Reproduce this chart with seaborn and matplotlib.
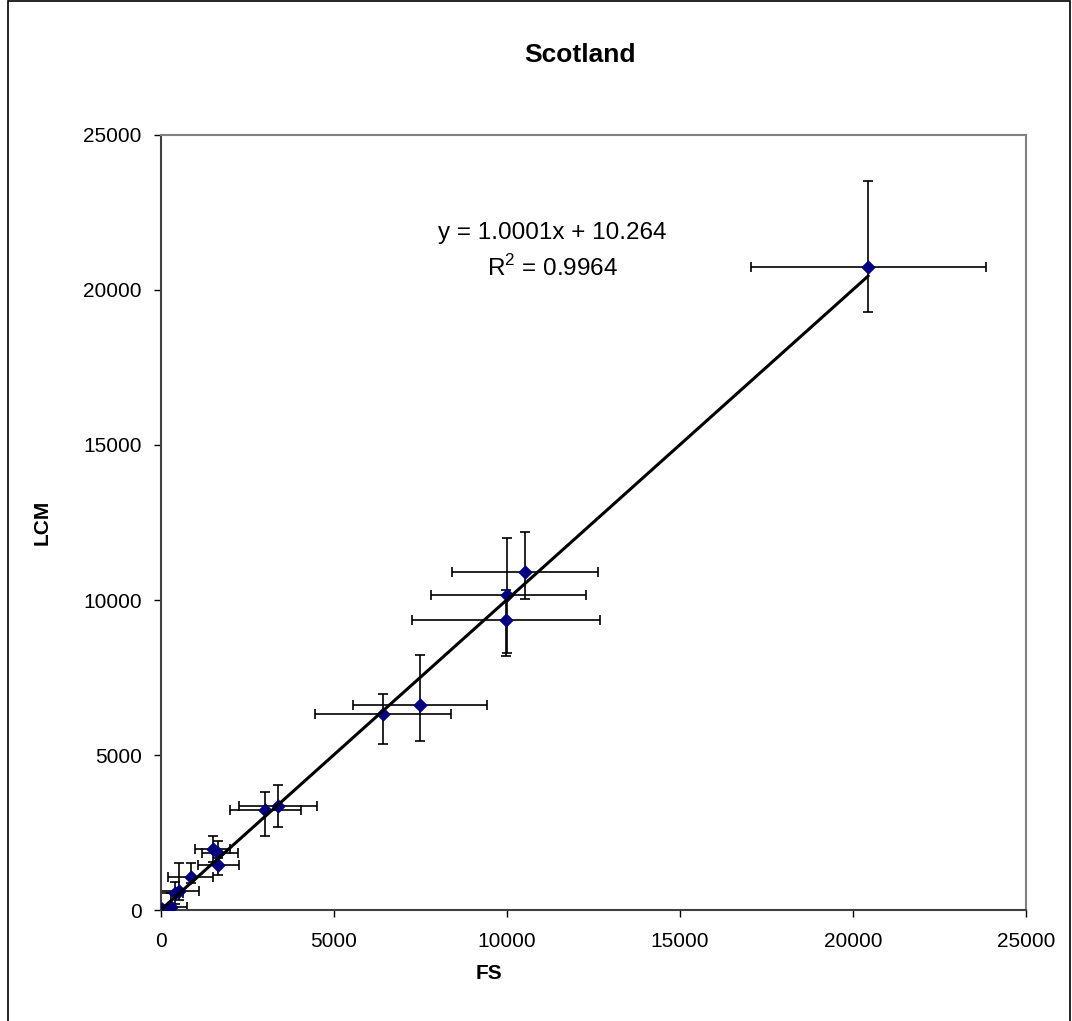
import numpy as np
import pandas as pd
import matplotlib
matplotlib.use('Agg')
import matplotlib.pyplot as plt
import seaborn as sns
from matplotlib.patches import Rectangle

# FS vs LCM areas, with asymmetric error bars
fs = [20442, 10529, 10009, 9962, 7486, 6426, 3372, 3006,
      1638, 1494, 1656, 858, 529, 405, 280, 20]
lcm = [20753, 10909, 10175, 9357, 6598, 6313, 3341, 3212,
       1834, 1963, 1455, 1054, 624, 560, 107, 40]
fs_err_lo = [3390, 2109, 2197, 2717, 1928, 1975, 1109, 1012,
             462, 511, 578, 647, 600, 483, 360, 100]
fs_err_hi = [3393, 2110, 2274, 2726, 1945, 1956, 1128, 1032,
             596, 500, 607, 636, 578, 231, 463, 100]
lcm_err_lo = [1477, 883, 1900, 1165, 1154, 944, 679, 819,
              350, 400, 323, 191, 300, 350, 300, 100]
lcm_err_hi = [2769, 1294, 1824, 960, 1639, 663, 692, 582,
              407, 440, 227, 456, 896, 350, 443, 100]

# linear trendline as reported on the chart
slope = 1.0001
intercept = 10.264
r_squared = 0.9964

ticks = [0, 5000, 10000, 15000, 20000, 25000]


def main():
    sns.set_style('white')
    plt.rcParams['font.family'] = ['Liberation Sans', 'DejaVu Sans']
    plt.rcParams['text.color'] = 'black'
    plt.rcParams['axes.labelcolor'] = 'black'
    plt.rcParams['xtick.color'] = 'black'
    plt.rcParams['ytick.color'] = 'black'
    plt.rcParams['mathtext.fontset'] = 'custom'
    plt.rcParams['mathtext.rm'] = 'Liberation Sans'

    df = pd.DataFrame({'FS': fs, 'LCM': lcm})

    fig = plt.figure(figsize=(10.72, 10.21), dpi=100)
    ax = fig.add_axes([0.1502, 0.1087, 0.8069, 0.7591])

    ax.errorbar(df['FS'], df['LCM'],
                xerr=[fs_err_lo, fs_err_hi],
                yerr=[lcm_err_lo, lcm_err_hi],
                fmt='none', ecolor='black', elinewidth=1.2,
                capsize=3.8, capthick=1.2, zorder=2)
    sns.scatterplot(data=df, x='FS', y='LCM', marker='D', s=55,
                    color='#000080', edgecolor='#000080', linewidth=0,
                    ax=ax, zorder=3)

    xs = np.array([min(fs), max(fs)])
    trend = pd.DataFrame({'x': xs, 'y': slope * xs + intercept})
    sns.lineplot(data=trend, x='x', y='y', color='black', linewidth=2.2,
                 ax=ax, zorder=4)

    ax.set_xlim(0, 25000)
    ax.set_ylim(0, 25000)
    ax.set_xticks(ticks)
    ax.set_yticks(ticks)
    ax.tick_params(axis='both', direction='out', length=5, width=1,
                   labelsize=15, color='black', labelcolor='black')
    ax.tick_params(axis='x', pad=11)
    ax.tick_params(axis='y', pad=9)
    ax.tick_params(axis='both', bottom=True, left=True)

    for side in ['top', 'right']:
        ax.spines[side].set_color('#808080')
        ax.spines[side].set_linewidth(1.5)
    for side in ['left', 'bottom']:
        ax.spines[side].set_color('#404040')
        ax.spines[side].set_linewidth(1.5)

    ax.set_xlabel('FS', fontsize=15, fontweight='bold')
    ax.set_ylabel('LCM', fontsize=15, fontweight='bold')
    ax.xaxis.set_label_coords((489 - 161) / 865, -(964 - 910) / 775)
    ax.yaxis.set_label_coords(-(161 - 52) / 865, 0.5)

    ax.text(0.452, 0.874, 'y = %.4fx + %.3f' % (slope, intercept),
            transform=ax.transAxes, ha='center', va='center', fontsize=17.5)
    ax.text(0.452, 0.828, 'R$^2$ = %.4f' % r_squared,
            transform=ax.transAxes, ha='center', va='center', fontsize=17.5)

    fig.text(580 / 1072, 1 - 55 / 1021, 'Scotland', ha='center',
             va='center', fontsize=19, fontweight='bold')

    fig.patches.append(Rectangle((8 / 1072, -0.01), 1062 / 1072, 1.0095,
                                 transform=fig.transFigure, fill=False,
                                 edgecolor='black', linewidth=1.2))

    fig.savefig('out.png', dpi=100)


if __name__ == '__main__':
    main()
